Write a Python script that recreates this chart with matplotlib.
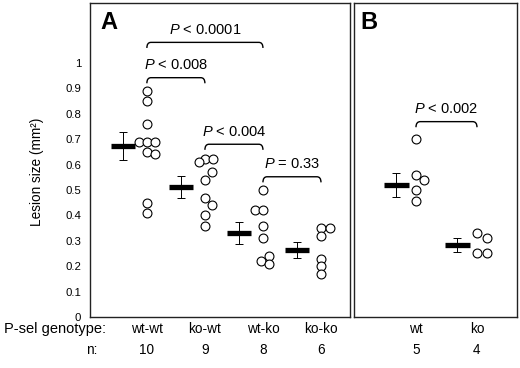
import numpy as np
import matplotlib
matplotlib.use("Agg")
import matplotlib.pyplot as plt
from matplotlib.path import Path
from matplotlib.patches import PathPatch

plt.rcParams['font.family'] = ['Liberation Sans', 'DejaVu Sans']
plt.rcParams['mathtext.fontset'] = 'custom'
plt.rcParams['mathtext.rm'] = 'Liberation Sans'
plt.rcParams['mathtext.it'] = 'Liberation Sans:italic'

# panel A data
groups_a = ['wt-wt', 'ko-wt', 'wt-ko', 'ko-ko']
n_a = [10, 9, 8, 6]
points_a = [
    [0.89, 0.85, 0.76, 0.69, 0.69, 0.69, 0.65, 0.64, 0.45, 0.41],
    [0.62, 0.62, 0.61, 0.57, 0.54, 0.47, 0.44, 0.40, 0.36],
    [0.50, 0.42, 0.42, 0.36, 0.31, 0.24, 0.22, 0.21],
    [0.35, 0.35, 0.32, 0.23, 0.20, 0.17],
]
mean_a = [0.672, 0.511, 0.331, 0.264]
sem_a = [0.055, 0.043, 0.043, 0.031]
# horizontal dodge of overlapping circles (in circle widths)
dodge_a = [
    [0, 0, 0, -1, 0, 1, 0, 1, 0, 0],
    [0, 1, -0.8, 0.9, 0, 0, 0.85, 0, 0],
    [0, -1, 0, 0, 0, 0.75, -0.25, 0.75],
    [0, 1.1, 0, 0, 0, 0],
]

# panel B data
groups_b = ['wt', 'ko']
n_b = [5, 4]
points_b = [
    [0.70, 0.56, 0.54, 0.50, 0.455],
    [0.33, 0.31, 0.25, 0.25],
]
mean_b = [0.518, 0.283]
sem_b = [0.047, 0.028]
dodge_b = [
    [0, 0, 1, 0, 0],
    [0, 1.2, 0, 1.2],
]

# significance brackets: (group i, group j, height, label)
brackets_a = [
    (0, 2, 1.081, '$P$ < 0.0001'),
    (0, 1, 0.942, '$P$ < 0.008'),
    (1, 2, 0.680, '$P$ < 0.004'),
    (2, 3, 0.552, '$P$ = 0.33'),
]
brackets_b = [
    (0, 1, 0.769, '$P$ < 0.002'),
]

W, H = 520, 368
fig = plt.figure(figsize=(W / 100, H / 100), dpi=100)
y_bot = (H - 317) / H
y_top = (H - 3) / H
axA = fig.add_axes([90 / W, y_bot, 260 / W, y_top - y_bot])
axB = fig.add_axes([354 / W, y_bot, 163 / W, y_top - y_bot])

YMAX = 1.236


def bracket(ax, x1, x2, y, label, r):
    drop = 0.022
    verts = [(x1, y - drop), (x1, y), (x1 + r, y), (x2 - r, y), (x2, y), (x2, y - drop)]
    codes = [Path.MOVETO, Path.CURVE3, Path.CURVE3, Path.LINETO, Path.CURVE3, Path.CURVE3]
    ax.add_patch(PathPatch(Path(verts, codes), facecolor='none', edgecolor='black', lw=1.0))
    ax.text((x1 + x2) / 2, y + 0.05, label, ha='center', va='center', fontsize=10.5)


def draw_panel(ax, groups, ns, points, means, sems, dodges, brackets, xlim, step, bar_off, letter):
    pos = np.arange(1, len(groups) + 1)
    for p, vals, dd in zip(pos, points, dodges):
        xs = p + np.array(dd) * step
        ax.plot(xs, vals, 'o', ms=6.4, mfc='white', mec='black', mew=0.8, zorder=3)
    xb = pos + bar_off
    ax.errorbar(xb, means, yerr=sems, fmt='none', ecolor='black', elinewidth=0.7,
                capsize=3, capthick=0.7, zorder=2)
    ax.hlines(means, xb - 0.21, xb + 0.21, colors='black', lw=3.8, zorder=2)
    for i, j, y, lab in brackets:
        bracket(ax, pos[i], pos[j], y, lab, 0.07)
    ax.set_xlim(*xlim)
    ax.set_ylim(0, YMAX)
    ax.set_xticks([])
    for s in ax.spines.values():
        s.set_linewidth(1.0)
        s.set_color('#222222')
    ax.text(0.04, 0.975, letter, transform=ax.transAxes, ha='left', va='top',
            fontsize=17, fontweight='bold')
    tr = ax.get_xaxis_transform()
    for p, g, n in zip(pos, groups, ns):
        ax.text(p, -0.038, g, transform=tr, ha='center', va='center', fontsize=9.8)
        ax.text(p, -0.105, str(n), transform=tr, ha='center', va='center', fontsize=9.8)


draw_panel(axA, groups_a, n_a, points_a, mean_a, sem_a, dodge_a, brackets_a,
           (0.02, 4.5), 0.138, -0.41, 'A')
draw_panel(axB, groups_b, n_b, points_b, mean_b, sem_b, dodge_b, brackets_b,
           (-0.016, 2.656), 0.131, -0.32, 'B')

yt = np.round(np.arange(0, 1.01, 0.1), 1)
axA.set_yticks(yt)
axA.set_yticklabels(['0' if v == 0 else ('1' if v == 1 else f'{v:.1f}') for v in yt], fontsize=8.2)
axA.tick_params(axis='y', length=0, pad=6.5)
axB.set_yticks([])

fig.text(37 / W, 1 - 171.5 / H, 'Lesion size (mm²)', rotation=90, ha='center', va='center',
         fontsize=9.8)
fig.text(106 / W, 1 - 329 / H, 'P-sel genotype:', ha='right', va='center', fontsize=10.5)
fig.text(97 / W, 1 - 350 / H, 'n:', ha='right', va='center', fontsize=9.8)

fig.savefig('out.png', dpi=100)
